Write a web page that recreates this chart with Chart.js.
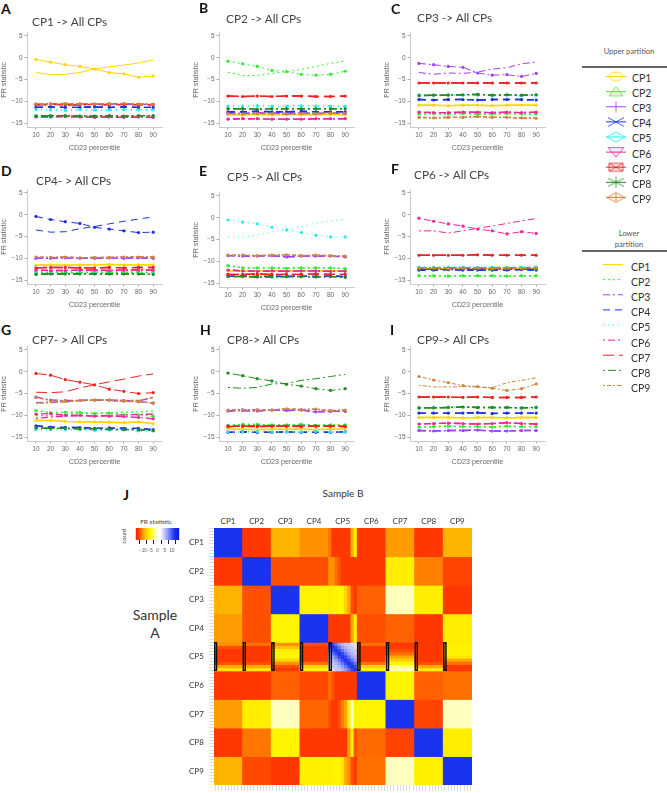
<!DOCTYPE html>
<html>
<head>
<meta charset="utf-8">
<script src="https://cdn.jsdelivr.net/npm/chart.js@4"></script>
<style>
  html, body { margin: 0; padding: 0; background: #fff; }
  #page { position: relative; width: 667px; height: 793px; overflow: hidden; }
  #page canvas { position: absolute; }
  #page div { position: absolute; white-space: nowrap; transform: translateY(-50%); font-family: Lato, sans-serif; }
  .panel { filter: blur(0.4px); }
</style>
</head>
<body>
<div id="page"></div>
<script>
const cpNames = ['CP1', 'CP2', 'CP3', 'CP4', 'CP5', 'CP6', 'CP7', 'CP8', 'CP9'];
const percentiles = [10, 20, 30, 40, 50, 60, 70, 80, 90];
const yTicks = [-15, -10, -5, 0, 5];

// Upper partition, one row per CP. The row of the panel's own CP is the curve with dots
const panelA = [
    [-0.4, -1, -1.6, -2, -2.6, -3.4, -3.7, -4.5, -4.2],
    [-13.3, -13.4, -13.3, -13.4, -13.4, -13.3, -13.5, -13.4, -13.4],
    [-10.7, -10.6, -10.7, -10.6, -10.7, -10.6, -10.6, -10.7, -10.7],
    [-11.4, -11.3, -11.4, -11.4, -11.3, -11.4, -11.3, -11.4, -11.4],
    [-11.9, -12, -12.1, -11.9, -12, -12, -11.9, -12, -12],
    [-13.6, -13.6, -13.5, -13.6, -13.7, -13.6, -13.7, -13.6, -13.7],
    [-10.8, -10.7, -10.8, -10.8, -10.7, -10.8, -10.7, -10.8, -10.8],
    [-13.4, -13.3, -13.3, -13.4, -13.4, -13.3, -13.4, -13.3, -13.3],
    [-10.6, -10.7, -10.5, -10.6, -10.6, -10.6, -10.5, -10.6, -10.7]
];
const panelB = [
    [-13.1, -13.1, -13, -13.1, -13, -13.1, -13.1, -13, -13.1],
    [-0.8, -1.4, -2, -2.9, -3.2, -3.8, -4, -3.8, -3.1],
    [-12.7, -12.8, -12.7, -12.7, -12.8, -12.7, -12.8, -12.7, -12.8],
    [-12.4, -12.4, -12.3, -12.4, -12.4, -12.3, -12.4, -12.4, -12.4],
    [-11.1, -11.1, -11, -11.1, -11.1, -11, -11.1, -11.1, -11.1],
    [-14.1, -14, -14, -14.1, -14.1, -14.1, -14, -14, -14],
    [-8.8, -8.9, -8.8, -8.9, -8.8, -8.8, -8.9, -8.9, -8.8],
    [-11.7, -11.7, -11.8, -11.7, -11.7, -11.7, -11.7, -11.7, -11.7],
    [-12.8, -12.9, -12.8, -12.8, -12.9, -12.8, -12.8, -12.7, -12.8]
];
const panelC = [
    [-10.9, -10.9, -11, -10.9, -10.9, -11, -10.9, -10.9, -10.9],
    [-12.9, -12.8, -12.9, -12.8, -12.9, -12.9, -12.8, -12.9, -12.9],
    [-1.3, -1.6, -2, -2.2, -3.5, -4, -3.9, -4.3, -3.6],
    [-9.6, -9.7, -9.6, -9.6, -9.7, -9.6, -9.6, -9.6, -9.7],
    [-8.5, -8.6, -8.5, -8.6, -8.6, -8.7, -8.6, -8.7, -8.6],
    [-12.5, -12.6, -12.6, -12.5, -12.5, -12.6, -12.5, -12.6, -12.5],
    [-5.8, -5.8, -5.8, -5.8, -5.8, -5.8, -5.8, -5.8, -5.8],
    [-8.7, -8.6, -8.6, -8.5, -8.4, -8.6, -8.5, -8.6, -8.5],
    [-13.7, -13.8, -13.7, -13.7, -13.5, -13.7, -13.7, -13.8, -13.9]
];
const panelD = [
    [-11.6, -11.5, -11.6, -11.5, -11.5, -11.4, -11.5, -11.5, -11.5],
    [-13.3, -13.2, -13.3, -13.3, -13.2, -13.3, -13.2, -13.3, -13.3],
    [-10, -10, -9.9, -10, -10, -9.9, -10, -9.9, -10],
    [-0.4, -1.1, -1.6, -2, -2.9, -3.3, -3.7, -4.1, -4],
    [-13, -13.1, -13, -13, -13.1, -13, -13, -13, -13.1],
    [-12.7, -12.8, -12.8, -12.7, -12.7, -12.8, -12.7, -12.7, -12.7],
    [-12.2, -12.1, -12.1, -12.2, -12.2, -12.1, -12.2, -12.1, -12.1],
    [-13.7, -13.6, -13.6, -13.6, -13.6, -13.6, -13.6, -13.6, -13.7],
    [-9.7, -9.8, -9.7, -9.9, -9.8, -9.8, -9.7, -9.7, -9.7]
];
const panelE = [
    [-12.2, -12.2, -12.3, -12.2, -12.2, -12.2, -12.3, -12.2, -12.2],
    [-11, -11.5, -11.5, -11.5, -11.6, -11.5, -11.5, -11.5, -11.7],
    [-8.7, -8.8, -8.8, -8.7, -9, -8.8, -8.8, -8.8, -9],
    [-13.4, -13.4, -13.5, -13.4, -13.5, -13.4, -13.5, -13.4, -13.5],
    [-0.5, -1, -1.4, -2.2, -2.8, -3.4, -4, -4.4, -4.4],
    [-12, -12.2, -12.3, -12.2, -12.3, -12.2, -12.2, -12.3, -12.3],
    [-13, -13, -12.9, -13, -13, -13, -12.9, -13, -13],
    [-13.5, -13.5, -13.6, -13.6, -13.5, -13.5, -13.6, -13.5, -13.7],
    [-8.6, -8.6, -8.7, -8.6, -8.5, -8.7, -8.6, -8.7, -8.8]
];
const panelF = [
    [-12.4, -12.4, -12.5, -12.4, -12.4, -12.4, -12.5, -12.4, -12.4],
    [-14, -14, -14.1, -14, -14, -14, -14.1, -14, -14],
    [-12.2, -12.3, -12.2, -12.2, -12.3, -12.2, -12.2, -12.3, -12.2],
    [-12.7, -12.7, -12.6, -12.7, -12.7, -12.7, -12.7, -12.6, -12.7],
    [-12, -12.1, -12, -12, -12.1, -12, -12.1, -12, -12],
    [-0.8, -1.5, -2.1, -2.6, -3.3, -3.7, -4.4, -3.9, -4.3],
    [-9.3, -9.3, -9.3, -9.3, -9.2, -9.3, -9.3, -9.3, -9.3],
    [-12.5, -12.5, -12.6, -12.5, -12.5, -12.6, -12.5, -12.5, -12.5],
    [-12.2, -12.2, -12.3, -12.2, -12.2, -12.3, -12.2, -12.3, -12.2]
];
const panelG = [
    [-11.2, -11.2, -11.4, -11.5, -11.5, -11.6, -11.7, -11.5, -11.9],
    [-8.9, -9.4, -9.3, -9.3, -9.6, -9.5, -9.9, -9.9, -10.2],
    [-5.8, -6.5, -6.6, -6.6, -6.5, -6.5, -6.6, -6.8, -7.2],
    [-12.4, -12.7, -12.8, -12.8, -13, -12.9, -13, -13, -13.3],
    [-13.3, -13.3, -13.3, -13.3, -13.5, -13.4, -13.3, -13.6, -13.6],
    [-9.7, -9.6, -10, -10, -10.2, -10.2, -10.3, -10.5, -10.8],
    [-0.4, -0.8, -1.8, -2.4, -3, -4, -4.5, -5, -4.8],
    [-12.9, -13, -13, -13.1, -13.1, -13.2, -13.3, -13.3, -13.5],
    [-5.9, -6.6, -6.8, -6.6, -6.5, -6.5, -6.8, -6.9, -7.2]
];
const panelH = [
    [-13.2, -13.2, -13.3, -13.2, -13.2, -13.2, -13.3, -13.2, -13.2],
    [-12.3, -12.1, -12.1, -12.2, -12.2, -12.1, -12.3, -12.2, -12.2],
    [-9, -8.9, -9, -8.8, -8.9, -8.8, -9.2, -9.1, -9.1],
    [-13.9, -13.8, -13.9, -13.9, -13.8, -13.9, -13.9, -13.9, -13.8],
    [-13.8, -13.8, -13.7, -13.8, -13.8, -13.8, -13.7, -13.8, -13.8],
    [-12.5, -12.5, -12.4, -12.5, -12.5, -12.4, -12.5, -12.5, -12.5],
    [-12.6, -12.5, -12.6, -12.5, -12.5, -12.6, -12.5, -12.5, -12.6],
    [-0.3, -0.9, -1.6, -2.1, -2.9, -3.3, -3.9, -4.3, -3.9],
    [-8.8, -8.7, -8.7, -8.8, -8.5, -8.7, -8.6, -8.9, -8.8]
];
const panelI = [
    [-10.5, -10.5, -10.5, -10.6, -10.5, -10.5, -10.6, -10.5, -10.5],
    [-12.7, -12.6, -12.5, -12.6, -12.6, -12.7, -12.5, -12.6, -12.6],
    [-13.5, -13.6, -13.5, -13.5, -13.4, -13.6, -13.6, -13.5, -13.5],
    [-9.5, -9.5, -9.5, -9.5, -9.4, -9.6, -9.5, -9.5, -9.5],
    [-8.3, -8.2, -8.2, -8.1, -8.2, -8.2, -8.2, -8.3, -8.2],
    [-12, -11.9, -11.8, -11.9, -12, -11.9, -11.7, -11.9, -12],
    [-5.8, -5.8, -5.8, -5.9, -5.8, -5.9, -5.9, -5.9, -5.8],
    [-8.3, -8.3, -8.2, -8.1, -8.2, -8.2, -8.2, -8.3, -8.2],
    [-1.1, -1.9, -2.5, -3.2, -3.4, -3.8, -4.3, -3.9, -2.8]
];

// Lower partition of each panel's own CP (the other arm of the X)
const selfLower = [
    [-3.4, -3.9, -3.8, -3.4, -2.6, -2.1, -1.7, -1.2, -0.5],
    [-3.3, -4.1, -4.1, -3.6, -3.2, -2.7, -2, -1.3, -0.7],
    [-3.4, -3.8, -3.5, -3.6, -3.3, -2.6, -2.3, -1.4, -1],
    [-3.5, -4, -3.9, -3.2, -2.7, -2.1, -1.5, -1, -0.5],
    [-4.4, -4.5, -4, -3.3, -2.7, -2, -1.3, -0.8, -0.3],
    [-3.7, -3.7, -4.2, -3.7, -3.1, -2.6, -2, -1.4, -0.9],
    [-4.7, -4.8, -4.6, -3.7, -3, -2.3, -1.7, -1, -0.5],
    [-3.6, -3.8, -3.6, -2.8, -2.7, -2, -1.6, -1.1, -0.6],
    [-3.1, -3.5, -3.5, -3.4, -3.5, -3.7, -2.5, -2, -1.4]
];
// Panel G is the only one where other CPs visibly split between partitions
const lowerG2 = [-10.1, -10, -9.8, -9.6, -9.6, -9.4, -9.3, -9.2, -9];
const lowerG3 = [-7.1, -7, -6.9, -6.6, -6.5, -6.6, -6.8, -6.7, -5.9];
const lowerG6 = [-10.7, -10.4, -10.2, -10.1, -10.2, -10, -9.9, -9.8, -9.7];
const lowerG9 = [-7.2, -7.1, -6.9, -6.6, -6.5, -6.5, -6.6, -6.6, -5.9];

// Heat map: FR statistic of sample A row against sample B column, CP5 handled below
const heatMatrix = [
    [12, -13, -8.5, -10, 0, -13, -9.5, -13, -8.5],
    [-13, 12, -12, -12, 0, -13, -5.5, -10.5, -12.5],
    [-8.5, -12, 12, -5, 0, -11.5, -1, -5.5, -13],
    [-9.5, -12, -5, 12, 0, -12, -11.5, -13, -5.5],
    [0, 0, 0, 0, 0, 0, 0, 0, 0],
    [-13, -13, -11.5, -12.3, 0, 12, -5, -11.5, -11],
    [-9.5, -5.5, -1, -11.3, 0, -5, 12, -12.5, -1],
    [-13, -10.8, -5, -13, 0, -11.2, -12.5, 12, -5.5],
    [-8.5, -12.3, -13, -5.2, 0, -11, -1, -5.3, 12]
];
// CP5 varies inside its cells: left to right along the CP5 column, one row per sample A CP
const cp5Column = [
    [-11, -13, -13, -13, -13, -13, -13, -8.5, -5.5],
    [-10, -10, -11, -12, -13, -13, -13, -13, -13],
    [-5.5, -5, -5, -4.5, -5, -7, -9, -12, -13],
    [-13, -13, -13, -13, -13, -13, -13, -9, -5.5],
    [0, 0, 0, 0, 0, 0, 0, 0, 0],
    [-11, -12, -13, -13, -13, -13, -13, -13, -13],
    [-12, -13, -13, -12, -10.5, -9, -5.5, -1, -5],
    [-13, -13, -13, -13, -13, -13, -9.5, -5.5, -12],
    [-5.5, -5, -5, -5, -6, -9, -10, -12, -13]
];
// Top to bottom along the CP5 row, one row per sample B CP
const cp5Row = [
    [-10, -12, -13, -13, -13, -13, -12, -9, -6],
    [-11, -13, -13, -13, -13, -13, -12, -9, -6],
    [-10, -8, -5.5, -5, -5, -7, -10, -12, -13],
    [-12, -13, -13, -13, -13, -13, -11, -7, -5],
    [0, 0, 0, 0, 0, 0, 0, 0, 0],
    [-11, -13, -13, -13, -13, -13, -11, -7, -5],
    [-13, -13, -12, -11, -9, -7, -5, -2, -1],
    [-13, -13, -13, -13, -13, -13, -12, -9, -5.5],
    [-5.5, -5, -5, -5, -6, -9, -11, -13, -13]
];
const cp5Block = [
    [12, 11, 9, 7, 6, 5, 5, 4, 4],
    [11, 12, 11, 9, 7, 6, 5, 5, 4],
    [9, 11, 12, 11, 9, 7, 6, 5, 5],
    [7, 9, 11, 12, 11, 9, 7, 6, 5],
    [6, 7, 9, 11, 12, 11, 9, 7, 6],
    [5, 6, 7, 9, 11, 12, 11, 9, 7],
    [5, 5, 6, 7, 9, 11, 12, 11, 9],
    [4, 5, 5, 6, 7, 9, 11, 12, 11],
    [4, 4, 5, 5, 6, 7, 9, 11, 12]
];
const colorbarValues = [-14, -13, -12, -11, -10, -9, -8, -7, -6, -5, -4, -3, -2, -1, 0, 1, 2, 3, 4, 5, 6, 7, 8, 9, 10, 11, 12, 13, 14];
const colorbarTicks = [-10, -5, 0, 5, 10];

// Styles
const cpColors = ['#ffd700', '#2cf02c', '#a040f0', '#1c30e8', '#22eeee', '#f0269a', '#ee2222', '#228b22', '#cd853f'];
const cpDashes = [[], [2, 3], [7, 3, 2, 3], [7, 5], [1, 4], [2, 3, 7, 3], [11, 5], [2, 3, 8, 3], [2, 2, 4, 2]];
const heatStops = [[-14, '#ff2000'], [-12, '#ff5000'], [-10, '#ff9000'], [-8, '#ffc000'], [-5.5, '#ffee00'], [-4, '#ffff00'],
    [-1, '#ffffc0'], [2, '#ffffff'], [4, '#dcdcf8'], [8, '#8088f4'], [12, '#1a34ee'], [14, '#1020e0']];

const page = document.getElementById('page');

function addText(text, x, y, size, color, extra) {
    const el = document.createElement('div');
    el.textContent = text;
    el.style.left = x + 'px';
    el.style.top = y + 'px';
    el.style.fontSize = size + 'px';
    el.style.color = color;
    if (extra) Object.assign(el.style, extra);
    page.appendChild(el);
    return el;
}

function addCanvas(left, top, width, height, cls) {
    const box = document.createElement('canvas');
    box.width = width;
    box.height = height;
    box.style.left = left + 'px';
    box.style.top = top + 'px';
    box.style.width = width + 'px';
    box.style.height = height + 'px';
    if (cls) box.className = cls;
    page.appendChild(box);
    return box.getContext('2d');
}

const hidden = { display: false };
const quiet = { legend: hidden, tooltip: { enabled: false } };

// One of the nine line panels
function createPanel(rows, index, axisLeft, axisTop) {
    const lowerRows = rows.map((row, i) => {
        if (i === index) return selfLower[index];
        if (index === 6 && i === 1) return lowerG2;
        if (index === 6 && i === 2) return lowerG3;
        if (index === 6 && i === 5) return lowerG6;
        if (index === 6 && i === 8) return lowerG9;
        return row;
    });
    const datasets = [];
    cpNames.forEach((name, i) => {
        const width = i === index ? 1 : 1.4;
        datasets.push({
            label: name + ' upper', data: rows[i], borderColor: cpColors[i], backgroundColor: cpColors[i],
            borderWidth: width, borderDash: cpDashes[i], pointRadius: 1.6, pointBorderWidth: 0, order: -i
        });
        datasets.push({
            label: name + ' lower', data: lowerRows[i], borderColor: cpColors[i],
            borderWidth: width, borderDash: cpDashes[i], pointRadius: 0, order: -i
        });
    });
    const tickFont = { family: '"Liberation Sans"', size: 6.5 };
    new Chart(addCanvas(axisLeft - 27, axisTop - 4, 166, 125, 'panel'), {
        type: 'line',
        data: { labels: percentiles, datasets: datasets },
        options: {
            responsive: false,
            animation: false,
            layout: { padding: { top: 4, right: 3 } },
            plugins: quiet,
            scales: {
                x: {
                    type: 'linear', min: 3.9, max: 96,
                    afterBuildTicks: s => { s.ticks = percentiles.map(v => ({ value: v })); },
                    afterFit: s => { s.height = 25; },
                    grid: { drawOnChartArea: false, tickLength: 2.5, tickColor: '#aaa' },
                    border: { color: '#ccc', width: 1 },
                    ticks: { font: tickFont, color: '#666', padding: 2, maxRotation: 0, callback: v => v },
                    title: { display: true, text: 'CD23 percentile', font: { family: '"Liberation Sans"', size: 7.2 }, color: '#666', padding: 0 }
                },
                y: {
                    min: -15.9, max: 5.7,
                    afterBuildTicks: s => { s.ticks = yTicks.map(v => ({ value: v })); },
                    afterFit: s => { s.width = 27; },
                    grid: { drawOnChartArea: false, tickLength: 2.5, tickColor: '#aaa' },
                    border: { color: '#ccc', width: 1 },
                    ticks: { font: tickFont, color: '#666', padding: 2, callback: v => (v < 0 ? '\u2212' + (-v) : v) },
                    title: { display: true, text: 'FR statistic', font: { family: '"Liberation Sans"', size: 7.2 }, color: '#666', padding: 0 }
                }
            }
        }
    });
}

// Outlined legend glyphs for the upper partition
function makeSymbol(i) {
    const c = document.createElement('canvas');
    c.width = 22;
    c.height = 12;
    const g = c.getContext('2d');
    g.strokeStyle = cpColors[i];
    g.lineWidth = 0.8;
    g.fillStyle = cpColors[i] + '18';
    g.beginPath();
    if (i === 0) g.ellipse(11, 6, 7, 4.5, 0, 0, Math.PI * 2);
    if (i === 1) { g.moveTo(11, 1); g.lineTo(18, 10); g.lineTo(4, 10); g.closePath(); }
    if (i === 2) { g.moveTo(11, 0.5); g.lineTo(11, 11.5); }
    if (i === 3) { g.moveTo(3, 1.5); g.lineTo(19, 10.5); g.moveTo(3, 10.5); g.lineTo(19, 1.5); }
    if (i === 4 || i === 8) { g.moveTo(2, 6); g.lineTo(11, 1); g.lineTo(20, 6); g.lineTo(11, 11); g.closePath(); }
    if (i === 5) { g.moveTo(3, 1.5); g.lineTo(19, 1.5); g.lineTo(11, 11); g.closePath(); }
    if (i === 6) { g.rect(4, 2, 14, 8); g.moveTo(4, 2); g.lineTo(18, 10); g.moveTo(4, 10); g.lineTo(18, 2); }
    if (i === 7) { g.moveTo(3, 2); g.lineTo(19, 10); g.moveTo(3, 10); g.lineTo(19, 2); g.moveTo(11, 0.5); g.lineTo(11, 11.5); }
    if (i === 8) { g.moveTo(11, 1); g.lineTo(11, 11); }
    g.fill();
    g.stroke();
    return c;
}

// Legend column, one short three point line per CP
function createLegend(left, top, upper) {
    const datasets = cpNames.map((name, i) => ({
        label: name,
        data: [{ x: 0, y: i }, { x: 0.5, y: i }, { x: 1, y: i }],
        borderColor: cpColors[i],
        borderWidth: 1,
        borderDash: upper ? [] : cpDashes[i],
        pointStyle: upper ? makeSymbol(i) : false,
        pointRadius: upper ? [0, 5, 0] : 0
    }));
    new Chart(addCanvas(left, top, 20, 136, 'panel'), {
        type: 'scatter',
        data: { datasets: datasets },
        options: {
            responsive: false,
            animation: false,
            showLine: true,
            plugins: quiet,
            scales: {
                x: { display: false, min: 0, max: 1 },
                y: { display: false, min: -0.5, max: 8.5, reverse: true }
            }
        }
    });
}

function lerpColor(a, b, t) {
    const part = (h, p) => parseInt(h.substr(p, 2), 16);
    const mix = p => Math.round(part(a, p) + (part(b, p) - part(a, p)) * t);
    return `rgb(${mix(1)},${mix(3)},${mix(5)})`;
}

function heatColor(v) {
    for (let i = 1; i < heatStops.length; i++) {
        if (v <= heatStops[i][0]) {
            const t = Math.max(0, (v - heatStops[i - 1][0]) / (heatStops[i][0] - heatStops[i - 1][0]));
            return lerpColor(heatStops[i - 1][1], heatStops[i][1], t);
        }
    }
    return heatStops[heatStops.length - 1][1];
}

// Value of one of the 81 by 81 fine bins of the heat map
function heatValue(fineRow, fineCol) {
    const r = Math.floor(fineRow / 9), c = Math.floor(fineCol / 9);
    if (r === 4 && c === 4) return cp5Block[fineRow % 9][fineCol % 9];
    if (c === 4) return cp5Column[r][fineCol % 9];
    if (r === 4) return cp5Row[c][fineRow % 9];
    return heatMatrix[r][c];
}

function createHeatmap() {
    const bins = [];
    for (let i = 0; i < 81; i++) bins.push(i);
    // Boxes on the CP5 row first: Chart.js paints the first dataset on top
    const datasets = [{
        label: 'CP5 boxes',
        data: bins.map(x => (x % 9 === 0 ? [36, 45] : null)),
        backgroundColor: 'rgba(0,0,0,0)',
        borderColor: '#111',
        borderWidth: 1,
        borderSkipped: false
    }];
    bins.forEach(row => {
        datasets.push({
            label: 'row ' + row,
            data: bins.map(() => [row, row + 1]),
            backgroundColor: bins.map(col => heatColor(heatValue(row, col))),
            borderWidth: 0,
            inflateAmount: 0.5
        });
    });
    new Chart(addCanvas(206, 528, 268, 264, 'panel'), {
        type: 'bar',
        data: { labels: bins, datasets: datasets },
        options: {
            responsive: false,
            animation: false,
            events: [],
            plugins: quiet,
            layout: { padding: { right: 2 } },
            datasets: { bar: { grouped: false, barPercentage: 1, categoryPercentage: 1 } },
            scales: {
                x: {
                    afterFit: s => { s.height = 7; },
                    grid: { drawOnChartArea: false, drawTicks: true, tickLength: 6, tickColor: '#ddd', offset: false },
                    border: { display: false },
                    ticks: { display: false, autoSkip: false }
                },
                y: {
                    min: 0, max: 81, reverse: true,
                    afterBuildTicks: s => { s.ticks = bins.map(v => ({ value: v })); },
                    afterFit: s => { s.width = 8; },
                    grid: { drawOnChartArea: false, tickLength: 5, tickColor: '#ddd' },
                    border: { display: false },
                    ticks: { display: false }
                }
            }
        }
    });
}

function createColorbar() {
    new Chart(addCanvas(129, 528, 57, 31), {
        type: 'bar',
        data: {
            datasets: [{
                data: colorbarValues.map(v => ({ x: v, y: 1 })),
                backgroundColor: colorbarValues.map(heatColor),
                borderWidth: 0,
                inflateAmount: 0.5,
                barPercentage: 1,
                categoryPercentage: 1
            }]
        },
        options: {
            responsive: false,
            animation: false,
            plugins: quiet,
            layout: { padding: { left: 2, right: 2 } },
            scales: {
                x: {
                    type: 'linear', min: -14.5, max: 14.5,
                    afterBuildTicks: s => { s.ticks = colorbarTicks.map(v => ({ value: v })); },
                    afterFit: s => { s.height = 19; },
                    grid: { drawOnChartArea: false, tickLength: 4, tickColor: '#222' },
                    border: { display: false },
                    ticks: { font: { family: '"Liberation Sans"', size: 4.5 }, color: '#555', padding: 4, maxRotation: 0, autoSkip: false, callback: v => (v < 0 ? '\u2212' + (-v) : v) }
                },
                y: { display: false, min: 0, max: 1 }
            }
        }
    });
}

// Panel placement: axis corner of each panel, title and letter
const panelRows = [panelA, panelB, panelC, panelD, panelE, panelF, panelG, panelH, panelI];
const axisLefts = [27, 219, 410, 27, 219, 410, 27, 219, 410];
const axisTops = [31, 31, 31, 188, 191, 188, 345, 345, 345];
const panelLetters = ['A', 'B', 'C', 'D', 'E', 'F', 'G', 'H', 'I'];
const letterSpots = [[1, 8], [199, 7], [391, 8], [1, 170], [199, 170], [391, 168], [1, 329], [200, 329], [390, 329]];
const panelTitles = ['CP1 -> All CPs', 'CP2 -> All CPs', 'CP3 -> All CPs', 'CP4- > All CPs', 'CP5 -> All CPs', 'CP6 -> All CPs', 'CP7- > All CPs', 'CP8-> All CPs', 'CP9-> All CPs'];
const titleSpots = [[32, 21], [226, 18], [417, 17], [36, 180], [227, 176], [414, 174], [32, 339], [227, 339], [417, 339]];

panelRows.forEach((rows, i) => {
    createPanel(rows, i, axisLefts[i], axisTops[i]);
    addText(panelLetters[i], letterSpots[i][0], letterSpots[i][1], 14, '#111', { fontWeight: 'bold' });
    addText(panelTitles[i], titleSpots[i][0], titleSpots[i][1], 11.8, '#444');
});

// Legends on the right
function addRule(y) {
    const el = document.createElement('div');
    Object.assign(el.style, { left: '582px', top: y + 'px', width: '85px', height: '2px', background: '#666' });
    page.appendChild(el);
}
addText('Upper partition', 629, 51, 7.5, '#555', { transform: 'translate(-50%,-50%)' });
addRule(67);
createLegend(606, 69, true);
addText('Lower', 629, 233, 7.5, '#555', { transform: 'translate(-50%,-50%)' });
addText('partition', 629, 244, 7.5, '#555', { transform: 'translate(-50%,-50%)' });
addRule(251);
createLegend(603, 257, false);
cpNames.forEach((name, i) => {
    addText(name, 632, 78 + i * 15.1, 10.5, '#333');
    addText(name, 631, 267 + i * 15.1, 10.5, '#333');
});

// Heat map and its labels
createHeatmap();
createColorbar();
addText('J', 123, 494, 14, '#111', { fontWeight: 'bold' });
addText('Sample B', 343, 493, 10, '#333', { transform: 'translate(-50%,-50%)' });
addText('Sample', 155, 614, 14, '#333', { transform: 'translate(-50%,-50%)' });
addText('A', 155, 632, 14, '#333', { transform: 'translate(-50%,-50%)' });
addText('FR statistic', 156, 521, 6.5, '#444', { transform: 'translate(-50%,-50%)' });
addText('count', 123, 536, 6, '#444', { transform: 'translate(-50%,-50%) rotate(-90deg)' });
cpNames.forEach((name, i) => {
    addText(name, 228 + i * 28.67, 521, 8, '#333', { transform: 'translate(-50%,-50%)' });
    addText(name, 189, 542 + i * 28.6, 8, '#333');
});
</script>
</body>
</html>
